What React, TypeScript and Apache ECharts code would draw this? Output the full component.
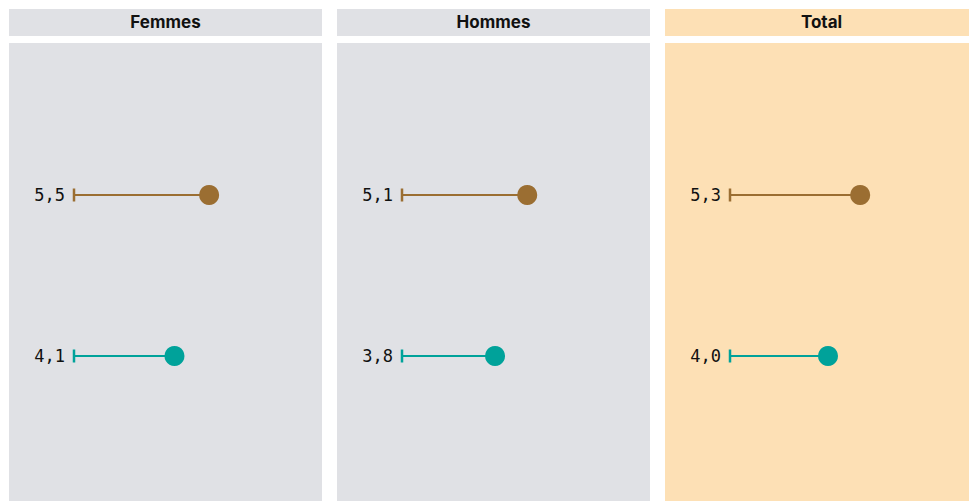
import React, { useEffect, useRef } from "react";
import * as echarts from "echarts";

const panels = ["Femmes", "Hommes", "Total"];
const rows = ["a", "b"];
const brownValues = [5.5, 5.1, 5.3];
const tealValues = [4.1, 3.8, 4.0];

const BROWN = "#9B6E32";
const TEAL = "#00A29A";
const GREY = "#E0E1E5";
const PEACH = "#FDE0B5";

const fmt = (v: number) => v.toFixed(1).replace(".", ",");

export default function App() {
  const ref = useRef<HTMLDivElement>(null);

  useEffect(() => {
    if (!ref.current) return;
    const chart = echarts.init(ref.current, null, { renderer: "svg" });

    const panelW = 313;
    const step = 328;
    const pxPerUnit = 24.75;
    const xMax = 9;
    const grids: any[] = [];
    const xAxes: any[] = [];
    const yAxes: any[] = [];
    const series: any[] = [];
    const graphics: any[] = [];

    panels.forEach((name, i) => {
      const px = 9 + i * step;
      const fill = i === 2 ? PEACH : GREY;
      graphics.push(
        { type: "rect", z: -10, shape: { x: px, y: 9, width: panelW, height: 27 }, style: { fill } },
        { type: "rect", z: -10, shape: { x: px, y: 43, width: panelW, height: 470 }, style: { fill } },
        {
          type: "text",
          z: 10,
          x: px + panelW / 2,
          y: 22,
          style: {
            text: name,
            fill: "#111",
            font: "bold 17px Inter, 'Noto Sans', sans-serif",
            align: "center",
            verticalAlign: "middle",
          },
        }
      );

      grids.push({
        left: px + 64,
        top: 114.5,
        width: pxPerUnit * xMax,
        height: 322,
        outerBoundsMode: "none",
      });
      xAxes.push({ gridIndex: i, type: "value", min: 0, max: xMax, show: false });
      yAxes.push({ gridIndex: i, type: "category", data: rows, inverse: true, show: false });

      const vals = [brownValues[i], tealValues[i]];
      const cols = [BROWN, TEAL];

      // stem
      series.push({
        type: "bar",
        xAxisIndex: i,
        yAxisIndex: i,
        barWidth: 2,
        data: vals.map((v, k) => ({ value: v, itemStyle: { color: cols[k] } })),
        label: {
          show: true,
          position: "left",
          distance: 8,
          formatter: (p: any) => fmt(p.value),
          fontFamily: "'DejaVu Sans Mono', 'Liberation Mono', monospace",
          fontSize: 17,
          color: "#111",
        },
        silent: true,
      });
      // start tick
      series.push({
        type: "scatter",
        xAxisIndex: i,
        yAxisIndex: i,
        symbol: "rect",
        symbolSize: [2.5, 13],
        symbolOffset: [1, 0],
        itemStyle: { opacity: 1 },
        data: vals.map((_, k) => ({ value: [0, k], itemStyle: { color: cols[k], opacity: 1 } })),
        silent: true,
      });
      // end dot
      series.push({
        type: "scatter",
        xAxisIndex: i,
        yAxisIndex: i,
        symbol: "circle",
        symbolSize: 20,
        itemStyle: { opacity: 1 },
        data: vals.map((v, k) => ({ value: [v, k], itemStyle: { color: cols[k], opacity: 1 } })),
        silent: true,
        z: 5,
      });
    });

    chart.setOption({
      animation: false,
      grid: grids,
      xAxis: xAxes,
      yAxis: yAxes,
      series,
      graphic: graphics,
    });

    return () => chart.dispose();
  }, []);

  return (
    <div
      ref={ref}
      style={{ position: "fixed", left: 0, top: 0, width: 969, height: 501, background: "#fff" }}
    />
  );
}
